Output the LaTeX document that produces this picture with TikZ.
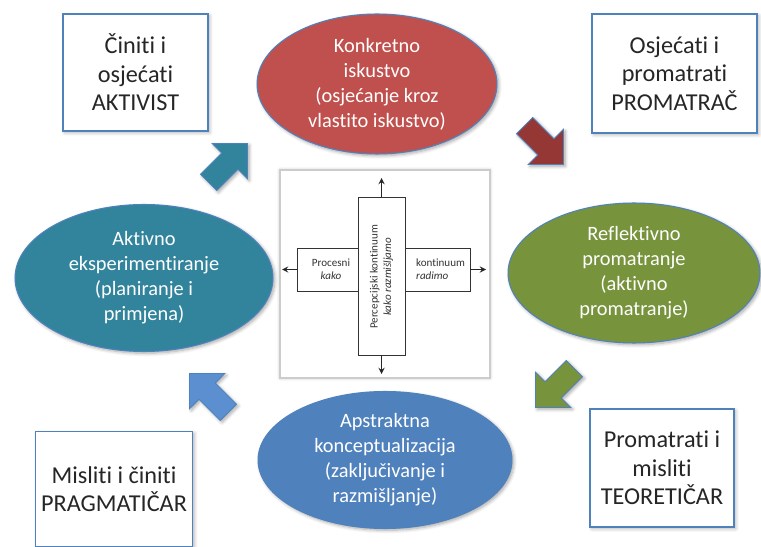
\documentclass[tikz,border=0pt]{standalone}
\usepackage{fontspec}
\setmainfont{Carlito}[RawFeature={-liga;-clig;-calt;-dlig}]
\usetikzlibrary{shapes.geometric,shapes.arrows,shadows.blur}
\definecolor{crvena}{HTML}{C0504D}
\definecolor{tamnocrvena}{HTML}{953735}
\definecolor{maslina}{HTML}{77933C}
\definecolor{plava}{HTML}{4F81BD}
\definecolor{svijetloplava}{HTML}{5B8FD0}
\definecolor{tirkizna}{HTML}{31849B}
\definecolor{rub}{HTML}{4F81BD}

\begin{document}
\begin{tikzpicture}[x=0.02cm, y=-0.02cm,
  faza/.style={ellipse, draw=rub, line width=0.6pt, inner sep=0pt, text=white, align=center,
    font=\fontsize{11.6}{14.2}\selectfont,
    blur shadow={shadow xshift=1pt, shadow yshift=-1pt, shadow blur steps=6, shadow opacity=35}},
  stil/.style={rectangle, draw=rub, line width=0.8pt, fill=white, align=center, text=black!85,
    font=\fontsize{13.8}{16.2}\selectfont,
    blur shadow={shadow xshift=1pt, shadow yshift=-1pt, shadow blur steps=6, shadow opacity=30}},
  strelica/.style={single arrow, draw=rub, line width=0.5pt, minimum height=1.1cm, minimum width=0.98cm,
    single arrow head extend=0.27cm, single arrow head indent=0pt, inner xsep=0pt, inner ysep=0.22cm,
    blur shadow={shadow xshift=1pt, shadow yshift=-1pt, shadow blur steps=6, shadow opacity=35}},
  okvir/.style={rectangle, draw=black!80, line width=0.5pt, fill=white, inner sep=0pt},
  sitno/.style={text=black!80, font=\fontsize{6.3}{7.6}\selectfont}]
\useasboundingbox (0,0) rectangle (761,547);

\node [stil, minimum width=2.9cm, minimum height=2.34cm] (aktivist) at (135.5,72.5) {Činiti i\\osjećati\\AKTIVIST};
\node [stil, minimum width=3.3cm, minimum height=2.38cm] (promatrac) at (674.5,73.5) {Osjećati i\\promatrati\\PROMATRAČ};
\node [stil, minimum width=2.88cm, minimum height=2.36cm] (teoreticar) at (662,468) {Promatrati i\\misliti\\TEORETIČAR};
\node [stil, minimum width=3.08cm, minimum height=2.3cm] (pragmaticar) at (114,489) {Misliti i činiti\\PRAGMATIČAR};

\node [faza, fill=crvena, minimum width=4.8cm, minimum height=2.8cm] (konkretno) at (377,84) {Konkretno\\iskustvo\\(osjećanje kroz\\vlastito iskustvo)};
\node [faza, fill=maslina, minimum width=5.04cm, minimum height=2.8cm] (reflektivno) at (634,273) {Reflektivno\\promatranje\\(aktivno\\promatranje)};
\node [faza, fill=plava, minimum width=5.08cm, minimum height=2.74cm] (apstraktna) at (385,460) {Apstraktna\\konceptualizacija\\(zaključivanje i\\razmišljanje)};
\node [faza, fill=tirkizna, minimum width=5.16cm, minimum height=2.94cm] (aktivno) at (144,278) {Aktivno\\eksperimentiranje\\(planiranje i\\primjena)};

\node [strelica, fill=tirkizna, rotate=45] (s1) at (224,167) {};
\node [strelica, fill=tamnocrvena, rotate=-45] (s2) at (540,141) {};
\node [strelica, fill=maslina, rotate=-135] (s3) at (559,384) {};
\node [strelica, fill=svijetloplava, rotate=135] (s4) at (213,397) {};

\node [rectangle, draw=black!20, line width=1.2pt, fill=white, minimum width=4.2cm, minimum height=4.16cm,
  blur shadow={shadow xshift=0pt, shadow yshift=0pt, shadow blur steps=5, shadow opacity=25}] (slika) at (385,274) {};
\node [okvir, minimum width=3.46cm, minimum height=0.86cm] (proces) at (383.5,269.5) {};
\node [okvir, minimum width=0.94cm, minimum height=3.16cm] (percepcija) at (381.5,276) {};
\coordinate (gore) at (381.5,178);
\coordinate (dolje) at (381.5,374);
\coordinate (lijevo) at (282,269.5);
\coordinate (desno) at (486,269.5);
\draw [black!85, line width=0.6pt, -stealth] (percepcija.north) -- (gore);
\draw [black!85, line width=0.6pt, -stealth] (percepcija.south) -- (dolje);
\draw [black!85, line width=0.6pt, -stealth] (proces.west) -- (lijevo);
\draw [black!85, line width=0.6pt, -stealth] (proces.east) -- (desno);
\node [sitno, align=center] (kako) at (331,269.5) {Procesni\\\textit{kako}};
\node [sitno, align=left, anchor=west] (radimo) at (410,269.5) {kontinuum\\\textit{radimo}};
\node [sitno, align=center, rotate=90] (razmisljamo) at (381.5,277) {Percepcijski kontinuum\\\textit{kako razmišljamo}};
\end{tikzpicture}
\end{document}
